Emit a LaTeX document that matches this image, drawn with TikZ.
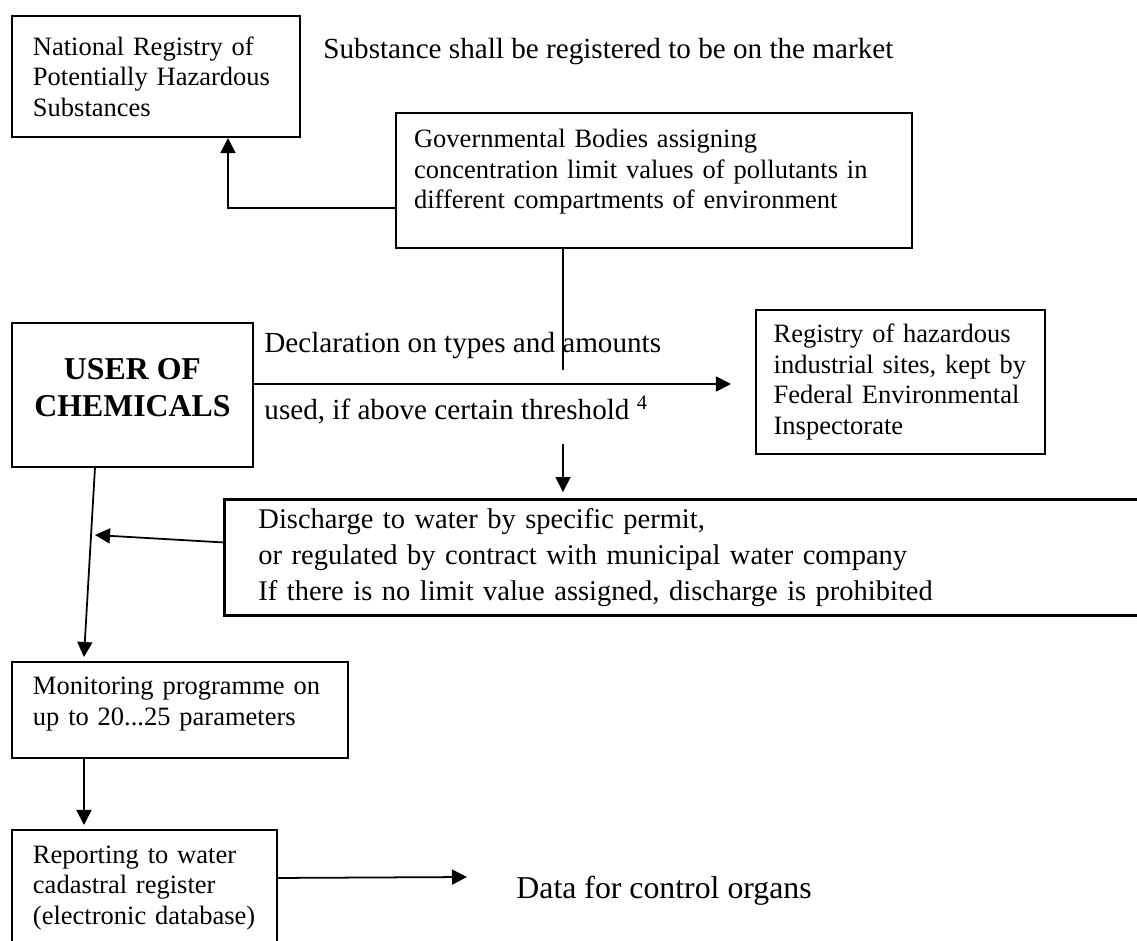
\documentclass[tikz,border=0pt]{standalone}
\usepackage{fontspec}
\setmainfont{Liberation Serif}
\usetikzlibrary{positioning,calc,arrows.meta}

\begin{document}
\begin{tikzpicture}[x=0.4528pt, y=-0.4528pt,
        box/.style={draw, line width=0.9pt, anchor=north west, align=left, inner ysep=2pt,
            font=\fontsize{12}{13.8}\selectfont},
        freetext/.style={anchor=west, inner sep=0pt, font=\fontsize{13.2}{16}\selectfont},
        arrow/.style={-{Triangle[length=6.8pt,width=6.8pt]}, line width=0.8pt}]
        \useasboundingbox (0,0) rectangle (1137,941);

        \node[box, minimum width=130.4pt, minimum height=54.8pt, inner xsep=9.5pt, text width=111.4pt] (national) at (11,15) {National Registry of\\Potentially Hazardous\\Substances};
        \node[freetext] (market) at (323,52) {Substance shall be registered to be on the market};
        \node[box, minimum width=233.6pt, minimum height=61.1pt, inner xsep=8.2pt, text width=217.2pt, text depth=38pt] (gov) at (395,112) {Governmental Bodies assigning\\concentration limit values of pollutants in\\different compartments of environment};
        \node[box, align=center, minimum width=109.1pt, minimum height=65.2pt, text depth=6.8pt, font=\fontsize{14.4}{16.75}\selectfont\bfseries] (user) at (11,322) {USER OF\\CHEMICALS};
        \node[freetext] (declaration) at (264,346) {Declaration on types and amounts};
        \node[freetext] (threshold) at (264,410) {used, if above certain threshold \textsuperscript{4}};
        \node[box, minimum width=130.9pt, minimum height=65.2pt, inner xsep=8pt, text width=114.9pt] (registry) at (755,309) {Registry of hazardous\\industrial sites, kept by\\Federal Environmental\\Inspectorate};
        \node[box, line width=1.3pt, minimum width=415.2pt, minimum height=52.5pt, inner xsep=15.4pt, text width=384.4pt, font=\fontsize{12.9}{16.3}\selectfont] (discharge) at (223,498) {Discharge to water by specific permit,\\or regulated by contract with municipal water company\\If there is no limit value assigned, discharge is prohibited};
        \node[box, minimum width=152.1pt, minimum height=43.5pt, inner xsep=9.5pt, text width=133.1pt, text depth=21.8pt] (monitoring) at (11,661) {Monitoring programme on\\up to 20...25 parameters};
        \node[box, minimum width=120pt, minimum height=52.5pt, inner xsep=9.5pt, text width=101pt] (reporting) at (11,829) {Reporting to water\\cadastral register\\(electronic database)};
        \node[freetext, font=\fontsize{14.4}{17}\selectfont] (data) at (516,891) {Data for control organs};

        \coordinate (govfoot) at (563,370);
        \coordinate (declfoot) at (563,444);
        \coordinate (inflow) at (95,535);

        \draw[arrow] ($(gov.west)+(0,27.5)$) -| ($(national.south)+(72,0)$);
        \draw[line width=0.8pt] (gov.south -| govfoot) -- (govfoot);
        \draw[arrow] ($(user.east)+(0,-11)$) -- ($(registry.west)+(-24,2)$);
        \draw[arrow, shorten >=2.7pt] (declfoot) -- (declfoot |- discharge.north);
        \draw[arrow] ($(discharge.west)+(0,-15)$) -- (inflow);
        \draw[arrow] ($(user.south)+(-37.5,0)$) -- ($(monitoring.north)+(-96,-4)$);
        \draw[arrow] ($(monitoring.south)+(-96,0)$) -- ($(reporting.north)+(-60.5,-4)$);
        \draw[arrow] ($(reporting.east)+(0,-10)$) -- ($(data.west)+(-49,-14)$);
    \end{tikzpicture}
\end{document}
